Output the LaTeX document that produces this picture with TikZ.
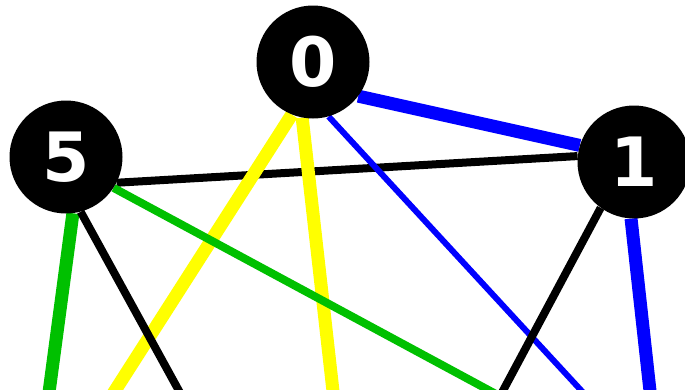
\documentclass[tikz,border=0pt]{standalone}
\usepackage{fontspec}
\setsansfont{DejaVu Sans}
\usepackage{tikz}
\usetikzlibrary{backgrounds}
\definecolor{edgeblue}{RGB}{0,0,255}
\definecolor{edgeyellow}{RGB}{255,255,0}
\definecolor{edgegreen}{RGB}{0,192,0}

\begin{document}
\begin{tikzpicture}[x=1pt, y=1pt,
    vertex/.style={circle, fill=black, text=white, minimum size=113pt, inner sep=0pt,
      font=\fontsize{68}{68}\selectfont\sffamily\bfseries},
    heavy/.style={line width=13pt},
    medium/.style={line width=8pt},
    light/.style={line width=6pt}]
  \useasboundingbox (0,0) rectangle (685,-389);
  \clip (0,0) rectangle (685,-389);
  % vertices
  \node[vertex] (n0) at (313,-62) {0};
  \node[vertex] (n5) at (66,-157) {5};
  \node[vertex] (n1) at (634,-162) {1};
  % vertices below the picture
  \coordinate (a) at (109,-400);
  \coordinate (b) at (334,-400);
  \coordinate (c) at (590,-400);
  \coordinate (d) at (48,-400);
  \coordinate (e) at (184,-400);
  \coordinate (f) at (507,-400);
  \coordinate (g) at (498,-400);
  \coordinate (h) at (651,-400);
  % edges
  \begin{scope}[on background layer]
  \clip (0,0) rectangle (685,-389);
  \draw[heavy, edgeblue] (n0.-37) -- (n1.163);
  \draw[medium, black] (n5.-27) -- (n1.174);
  \draw[heavy, edgeyellow] (n0.-112) -- (a);
  \draw[heavy, edgeyellow] (n0.-101) -- (b);
  \draw[light, edgeblue] (n0.-74) -- (c);
  \draw[heavy, edgegreen] (n5.-83) -- (d);
  \draw[medium, black] (n5.-75) -- (e);
  \draw[medium, edgegreen] (n5.-33) -- (f);
  \draw[medium, black] (n1.-126) -- (g);
  \draw[heavy, edgeblue] (n1.-93) -- (h);
  \end{scope}
\end{tikzpicture}
\end{document}
